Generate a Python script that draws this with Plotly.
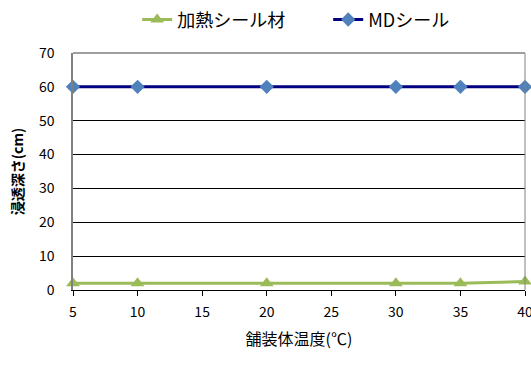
import plotly.graph_objects as go

# Pavement temperature (°C) and penetration depth (cm)
temps = [5, 10, 20, 30, 35, 40]
heated_seal = [2, 2, 2, 2, 2, 2.5]
md_seal = [60, 60, 60, 60, 60, 60]

font_jp = "Noto Sans CJK JP, Noto Sans, sans-serif"

fig = go.Figure()
fig.add_trace(go.Scatter(
    x=temps, y=heated_seal, name="加熱シール材", mode="lines+markers",
    line=dict(color="#9BBB59", width=3),
    marker=dict(symbol="triangle-up", size=12, color="#9BBB59"),
    cliponaxis=False,
))
fig.add_trace(go.Scatter(
    x=temps, y=md_seal, name="MDシール", mode="lines+markers",
    line=dict(color="#000080", width=3),
    marker=dict(symbol="diamond", size=11, color="#4F81BD"),
    cliponaxis=False,
))

fig.update_layout(
    width=531, height=374,
    margin=dict(l=73, r=6, t=53, b=84),
    paper_bgcolor="white", plot_bgcolor="white",
    font=dict(family=font_jp, size=14, color="black"),
    showlegend=True,
    legend=dict(orientation="h", x=0.142, xanchor="left",
                yref="container", y=0.947, yanchor="middle",
                font=dict(size=18), itemwidth=30, entrywidth=146,
                traceorder="normal"),
    xaxis=dict(
        range=[5, 40], tickvals=[5, 10, 15, 20, 25, 30, 35, 40],
        showgrid=False, zeroline=False,
        showline=True, linecolor="black", linewidth=1,
        ticks="outside", ticklen=5, tickcolor="black",
        tickfont=dict(size=14), ticklabeloverflow="allow", ticklabelstandoff=4,
        title=dict(text="舗装体温度(℃)", font=dict(size=16), standoff=14),
        automargin=False,
    ),
    yaxis=dict(
        range=[0, 70], dtick=10,
        showgrid=True, gridcolor="black", gridwidth=1,
        zeroline=False,
        showline=True, linecolor="#808080", linewidth=1.5,
        ticks="", tickfont=dict(size=14), ticklabelstandoff=14,
        title=dict(text="<b>浸透深さ(cm)</b>", font=dict(size=14), standoff=12),
        automargin=False,
    ),
)
# top and right borders of the plot area
fig.add_shape(type="line", xref="paper", yref="paper", x0=0, x1=1, y0=1, y1=1,
              line=dict(color="#404040", width=1))
fig.add_shape(type="line", xref="paper", yref="paper", x0=1, x1=1, y0=0, y1=1,
              line=dict(color="#808080", width=1))

fig.write_html("out.html")
